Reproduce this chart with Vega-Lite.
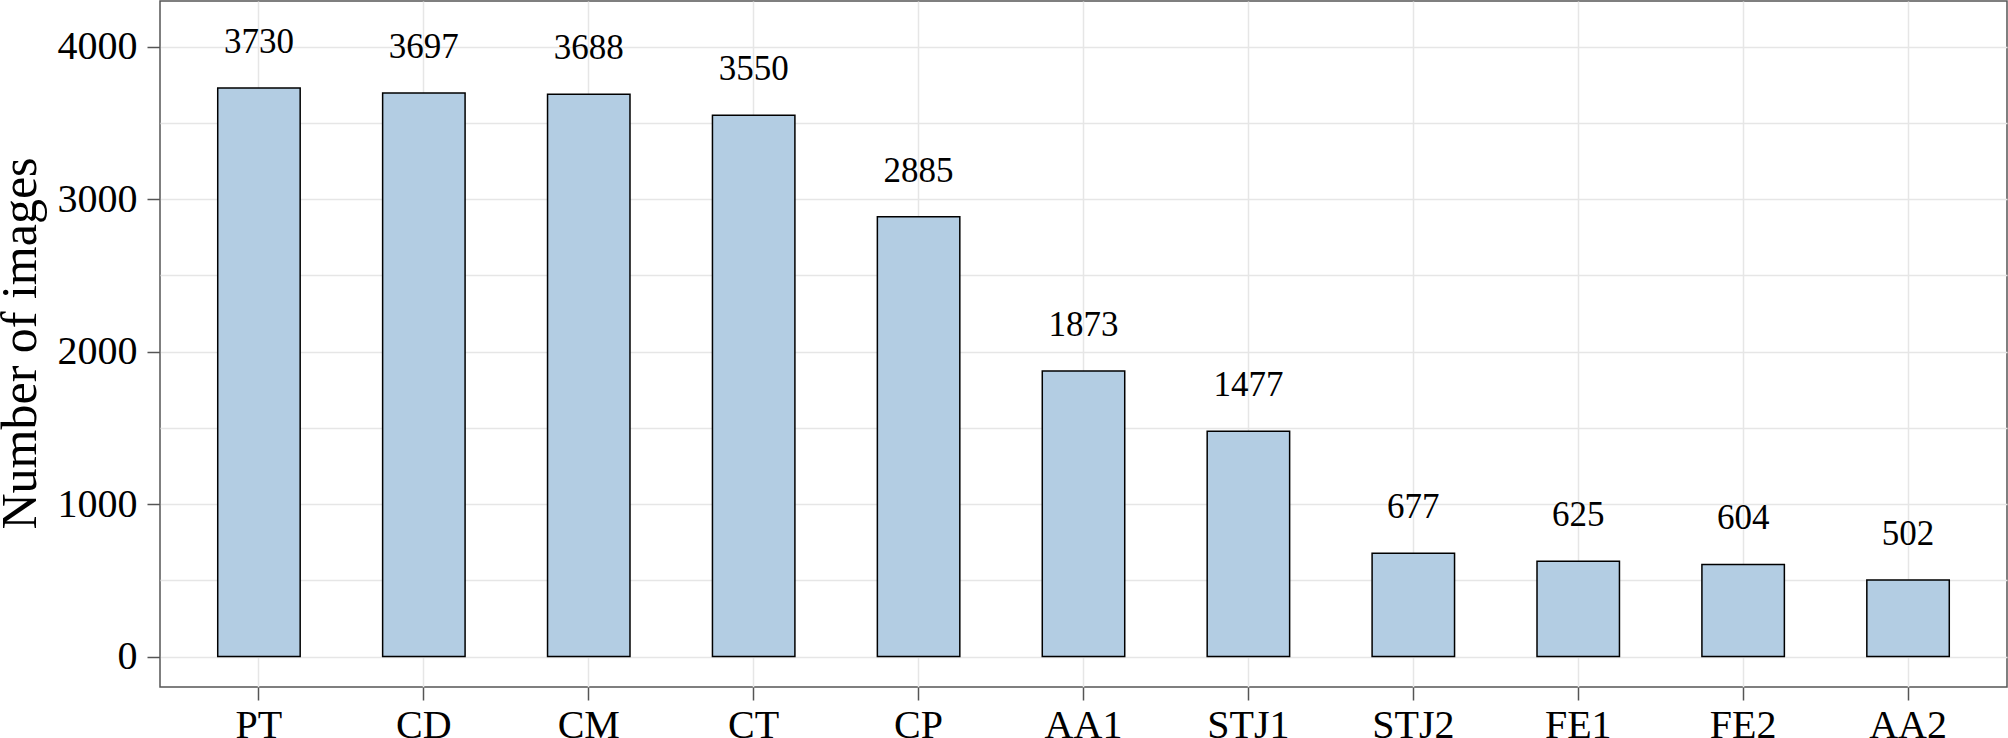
{
  "$schema": "https://vega.github.io/schema/vega-lite/v6.json",
  "width": 1847,
  "height": 686,
  "autosize": "none",
  "padding": {"left": 160, "top": 1, "right": 1, "bottom": 51},
  "background": "white",
  "config": {
    "font": "Liberation Serif",
    "view": {"stroke": "#555555", "strokeWidth": 1.5}
  },
  "data": {
    "values": [
      {"cat": "PT", "n": 3730},
      {"cat": "CD", "n": 3697},
      {"cat": "CM", "n": 3688},
      {"cat": "CT", "n": 3550},
      {"cat": "CP", "n": 2885},
      {"cat": "AA1", "n": 1873},
      {"cat": "STJ1", "n": 1477},
      {"cat": "STJ2", "n": 677},
      {"cat": "FE1", "n": 625},
      {"cat": "FE2", "n": 604},
      {"cat": "AA2", "n": 502}
    ]
  },
  "encoding": {
    "x": {
      "field": "cat",
      "type": "nominal",
      "sort": null,
      "scale": {"paddingInner": 0.5, "paddingOuter": 0.35},
      "axis": {
        "title": null,
        "labelAngle": 0,
        "labelFontSize": 40,
        "labelColor": "black",
        "labelBaseline": "top",
        "labelPadding": 5,
        "tickSize": 13,
        "tickColor": "#555555",
        "tickWidth": 1.5,
        "domain": false,
        "grid": true,
        "gridColor": "#e6e6e6",
        "gridWidth": 1.5,
        "bandPosition": 0.5
      }
    },
    "y": {
      "field": "n",
      "type": "quantitative",
      "scale": {"domain": [-200, 4300], "nice": false, "zero": false},
      "axis": {
        "title": "Number of images",
        "titleFontSize": 50,
        "titleFontWeight": "normal",
        "titleColor": "black",
        "titleAngle": -90,
        "titleBaseline": "alphabetic",
        "titleAlign": "center",
        "titleX": -125,
        "titleY": 342,
        "values": [0, 500, 1000, 1500, 2000, 2500, 3000, 3500, 4000],
        "labelExpr": "datum.value % 1000 === 0 ? datum.value : ''",
        "labelFontSize": 40,
        "labelColor": "black",
        "labelPadding": 10,
        "tickSize": 13,
        "tickColor": "#555555",
        "tickWidth": 1.5,
        "tickOpacity": {"condition": {"test": "datum.value % 1000 === 0", "value": 1}, "value": 0},
        "domain": false,
        "grid": true,
        "gridColor": "#e6e6e6",
        "gridWidth": 1.5
      }
    }
  },
  "layer": [
    {
      "mark": {"type": "bar", "fill": "#b3cde3", "stroke": "black", "strokeWidth": 1.5},
      "encoding": {"y2": {"datum": 0}}
    },
    {
      "mark": {"type": "text", "fontSize": 35, "color": "black", "baseline": "alphabetic", "dy": -35},
      "encoding": {"text": {"field": "n", "type": "quantitative", "format": "d"}}
    }
  ]
}
